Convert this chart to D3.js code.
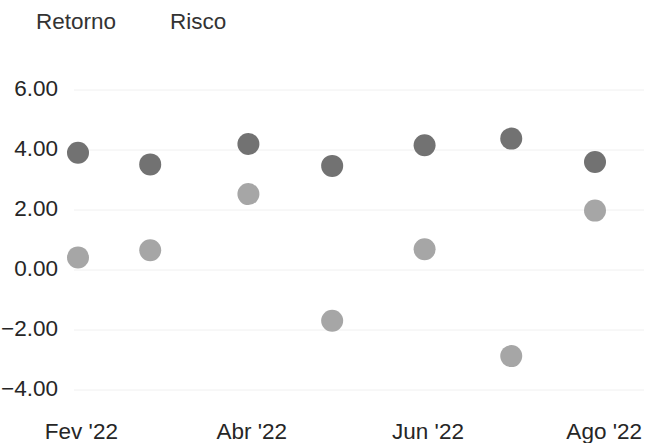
<!DOCTYPE html>
<html>
<head>
<meta charset="utf-8">
<script src="https://cdn.jsdelivr.net/npm/d3@7"></script>
<style>
    body { margin: 0; background: #fff; }
    text { font-family: "Liberation Sans", Arial, sans-serif; }
</style>
</head>
<body>
<div id="chart"></div>
<script>
// Data (end-of-month dates, Brazilian business days)
const dates = ['2022-01-31', '2022-02-25', '2022-03-31', '2022-04-29', '2022-05-31', '2022-06-30', '2022-07-29'];
const retorno = [0.42, 0.66, 2.53, -1.69, 0.69, -2.87, 1.98];
const risco = [3.91, 3.52, 4.20, 3.47, 4.16, 4.38, 3.60];
const seriesNames = ['Retorno', 'Risco'];
const yTicks = [-4, -2, 0, 2, 4, 6];
const xTickDates = ['2022-02-01', '2022-04-01', '2022-06-01', '2022-08-01'];
const xTickLabels = ["Fev '22", "Abr '22", "Jun '22", "Ago '22"];

const parseDate = d3.timeParse('%Y-%m-%d');
const fontSize = 22.5;

// SVG container
const width = 648, height = 443;
const svg = d3.select('#chart')
    .append('svg')
    .attr('width', width)
    .attr('height', height);

// Scales
const xScale = d3.scaleTime()
    .domain([parseDate(dates[0]), parseDate(dates[dates.length - 1])])
    .range([78, 595]);
const yScale = d3.scaleLinear()
    .domain([-4, 6])
    .range([390, 90]);

// Gridlines (very faint in the reference)
svg.append('g')
    .selectAll('line')
    .data(yTicks)
    .join('line')
        .attr('x1', 74)
        .attr('x2', 644)
        .attr('y1', d => yScale(d))
        .attr('y2', d => yScale(d))
        .attr('stroke', '#f0f0f0')
        .attr('stroke-width', 1);

// Y axis labels
const yAxis = d3.axisLeft(yScale)
    .tickValues(yTicks)
    .tickFormat(d3.format('.2f'))
    .tickSize(0)
    .tickPadding(0);
svg.append('g')
    .attr('transform', 'translate(58, 0)')
    .call(yAxis)
    .call(g => g.select('.domain').remove())
    .selectAll('text')
        .attr('font-size', fontSize)
        .attr('fill', '#262626')
        .attr('dy', null)
        .attr('y', 5)
        .style('font-family', '"Liberation Sans", Arial, sans-serif');

// X axis labels
const xAxis = d3.axisBottom(xScale)
    .tickValues(xTickDates.map(parseDate))
    .tickFormat((d, i) => xTickLabels[i])
    .tickSize(0)
    .tickPadding(0);
svg.append('g')
    .call(xAxis)
    .call(g => g.select('.domain').remove())
    .selectAll('text')
        .attr('font-size', fontSize)
        .attr('fill', '#262626')
        .attr('dy', null)
        .attr('y', 439)
        .style('font-family', '"Liberation Sans", Arial, sans-serif');

// Legend (text only)
svg.selectAll('.legend')
    .data(seriesNames)
    .join('text')
        .attr('class', 'legend')
        .attr('x', (d, i) => i === 0 ? 36 : 170)
        .attr('y', 29)
        .attr('font-size', fontSize)
        .attr('fill', '#333')
        .text(d => d);

// Dots
const colorScale = d3.scaleOrdinal()
    .domain(seriesNames)
    .range(['#a6a6a6', '#727272']);

const series = [
    { name: 'Retorno', values: retorno },
    { name: 'Risco', values: risco }
];

series.forEach(s => {
    svg.append('g')
        .selectAll('circle')
        .data(s.values)
        .join('circle')
            .attr('cx', (d, i) => xScale(parseDate(dates[i])))
            .attr('cy', d => yScale(d))
            .attr('r', 11)
            .attr('fill', colorScale(s.name));
});
</script>
</body>
</html>
